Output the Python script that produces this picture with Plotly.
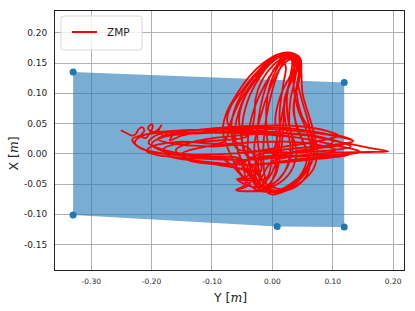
import plotly.graph_objects as go

# ---- support polygon (Y, X) ----
poly_y = [-0.330, 0.119, 0.119, 0.008, -0.330]
poly_x = [0.135, 0.118, -0.121, -0.120, -0.101]

# ---- ZMP trajectory segments (Y horizontal, X vertical) ----
start_y = [-0.251, -0.241, -0.232, -0.226, -0.222, -0.216, -0.212, -0.218, -0.210, -0.203, -0.198, -0.200, -0.206, -0.196, -0.188, -0.184, -0.188, -0.180, -0.172, -0.166, -0.170]
start_x = [0.039, 0.034, 0.030, 0.033, 0.040, 0.044, 0.038, 0.030, 0.026, 0.034, 0.045, 0.049, 0.042, 0.036, 0.041, 0.047, 0.038, 0.030, 0.036, 0.030, 0.022]

e1_y = [-0.150, -0.100, -0.040, 0.030, 0.090, 0.125, 0.134, 0.110, 0.050, -0.020, -0.100, -0.170, -0.210, -0.228, -0.215, -0.170]
e1_x = [0.030, 0.038, 0.044, 0.042, 0.033, 0.026, 0.021, 0.016, 0.010, 0.004, -0.001, -0.001, 0.006, 0.018, 0.030, 0.036]

e2_y = [-0.100, -0.020, 0.060, 0.120, 0.165, 0.192, 0.160, 0.100, 0.030, -0.040, -0.120, -0.190, -0.208, -0.200, -0.150]
e2_x = [0.040, 0.038, 0.030, 0.018, 0.009, 0.004, 0.003, 0.002, -0.004, -0.010, -0.008, -0.002, 0.004, 0.012, 0.020]

t1_y = [-0.080, -0.070, -0.055, -0.035, -0.015, 0.005, 0.025, 0.042, 0.046, 0.040, 0.035, 0.045, 0.058, 0.050, 0.025, 0.000, -0.020]
t1_x = [0.020, 0.050, 0.085, 0.115, 0.140, 0.158, 0.165, 0.158, 0.140, 0.110, 0.070, 0.035, 0.000, -0.030, -0.055, -0.062, -0.050]

t2_y = [-0.035, -0.050, -0.055, -0.045, -0.025, -0.005, 0.015, 0.035, 0.044, 0.034, 0.020, 0.022, 0.030, 0.020, 0.000, -0.030, -0.058, -0.040]
t2_x = [-0.020, 0.020, 0.060, 0.095, 0.125, 0.148, 0.162, 0.160, 0.145, 0.125, 0.090, 0.050, 0.010, -0.030, -0.050, -0.055, -0.042, -0.036]

e3_y = [-0.060, -0.120, -0.180, -0.200, -0.180, -0.120, -0.040, 0.040, 0.100, 0.140, 0.145, 0.110, 0.050, -0.010, -0.050]
e3_x = [-0.012, -0.006, 0.004, 0.016, 0.028, 0.034, 0.034, 0.027, 0.015, 0.006, 0.003, -0.002, -0.008, -0.016, -0.020]

t3_y = [-0.020, -0.025, -0.018, -0.005, 0.010, 0.024, 0.036, 0.032, 0.022, 0.018, 0.015, 0.005, -0.015, -0.040, -0.060, -0.045]
t3_x = [-0.030, 0.030, 0.085, 0.125, 0.150, 0.160, 0.152, 0.130, 0.095, 0.050, 0.010, -0.035, -0.058, -0.062, -0.060, -0.050]

t12_y = [-0.065, -0.075, -0.068, -0.050, -0.030, -0.010, 0.012, 0.030, 0.036, 0.026, 0.018, 0.010, 0.000, -0.010, -0.059, -0.035]
t12_x = [0.030, 0.055, 0.080, 0.105, 0.130, 0.150, 0.162, 0.158, 0.140, 0.110, 0.075, 0.035, -0.005, -0.040, -0.042, -0.040]

t4_y = [-0.045, -0.070, -0.082, -0.075, -0.058, -0.038, -0.015, 0.008, 0.030, 0.046, 0.048, 0.050, 0.060, 0.070, 0.074, 0.068, 0.050, 0.025, -0.005]
t4_x = [-0.040, 0.000, 0.040, 0.070, 0.100, 0.128, 0.150, 0.164, 0.167, 0.158, 0.135, 0.100, 0.065, 0.030, 0.000, -0.025, -0.045, -0.060, -0.066]

e8_y = [-0.040, -0.100, -0.160, -0.190, -0.170, -0.100, -0.020, 0.060, 0.110, 0.130, 0.100, 0.040, -0.020]
e8_x = [0.010, 0.012, 0.016, 0.024, 0.032, 0.036, 0.036, 0.030, 0.020, 0.012, 0.006, 0.002, -0.002]

t5_y = [-0.020, -0.038, -0.040, -0.030, -0.012, 0.008, 0.028, 0.038, 0.030, 0.015, 0.005, 0.008, 0.005, -0.010, -0.040, -0.067, -0.050]
t5_x = [-0.060, -0.020, 0.030, 0.075, 0.115, 0.145, 0.158, 0.150, 0.130, 0.100, 0.060, 0.015, -0.030, -0.055, -0.030, -0.019, -0.012]

e4_y = [-0.020, 0.040, 0.100, 0.126, 0.100, 0.040, -0.040, -0.120, -0.170, -0.180, -0.150, -0.090]
e4_x = [-0.005, -0.003, -0.002, -0.002, -0.006, -0.012, -0.018, -0.012, -0.004, 0.008, 0.018, 0.022]

t6_y = [-0.040, -0.030, -0.028, -0.018, 0.000, 0.020, 0.040, 0.047, 0.044, 0.036, 0.040, 0.055, 0.062, 0.050, 0.025, -0.005]
t6_x = [0.030, 0.060, 0.090, 0.120, 0.145, 0.160, 0.160, 0.145, 0.120, 0.085, 0.045, 0.010, -0.020, -0.045, -0.060, -0.058]

t13_y = [-0.010, -0.015, -0.010, 0.000, 0.012, 0.026, 0.038, 0.046, 0.042, 0.050, 0.060, 0.066, 0.056, 0.030, 0.005, -0.015]
t13_x = [-0.050, 0.000, 0.060, 0.105, 0.140, 0.160, 0.160, 0.150, 0.120, 0.085, 0.050, 0.010, -0.025, -0.050, -0.062, -0.055]

t7_y = [-0.030, -0.052, -0.062, -0.052, -0.034, -0.012, 0.010, 0.022, 0.018, 0.012, 0.012, 0.000, -0.025]
t7_x = [-0.045, -0.010, 0.035, 0.080, 0.115, 0.145, 0.160, 0.145, 0.115, 0.070, 0.020, -0.030, -0.055]

e5_y = [-0.050, -0.110, -0.170, -0.205, -0.190, -0.120, -0.040, 0.040, 0.090, 0.110, 0.080, 0.020, -0.040]
e5_x = [-0.010, -0.004, 0.004, 0.018, 0.032, 0.040, 0.046, 0.046, 0.038, 0.030, 0.022, 0.012, 0.004]

t8_y = [-0.060, -0.068, -0.060, -0.042, -0.020, 0.002, 0.022, 0.038, 0.044, 0.040, 0.048, 0.066, 0.068, 0.048, 0.015, -0.020, -0.060, -0.040]
t8_x = [0.010, 0.045, 0.080, 0.112, 0.138, 0.155, 0.163, 0.160, 0.140, 0.105, 0.065, 0.030, -0.005, -0.040, -0.062, -0.062, -0.060, -0.052]

e9_y = [-0.030, -0.090, -0.140, -0.150, -0.120, -0.050, 0.020, 0.080, 0.105, 0.070, 0.000]
e9_x = [-0.022, -0.018, -0.010, 0.000, 0.010, 0.018, 0.020, 0.014, 0.006, -0.002, -0.012]

t9_y = [-0.020, -0.030, -0.020, -0.005, 0.012, 0.030, 0.040, 0.035, 0.042, 0.058, 0.064, 0.050, 0.020, -0.010]
t9_x = [-0.040, 0.010, 0.060, 0.105, 0.140, 0.156, 0.150, 0.120, 0.075, 0.035, 0.000, -0.035, -0.058, -0.050]

e6_y = [-0.030, -0.080, -0.140, -0.160, -0.130, -0.060, 0.010, 0.070, 0.100, 0.080, 0.020, -0.030]
e6_x = [-0.030, -0.020, -0.008, 0.006, 0.020, 0.030, 0.034, 0.030, 0.020, 0.010, 0.000, -0.008]

t10_y = [-0.045, -0.050, -0.040, -0.022, -0.002, 0.018, 0.032, 0.030, 0.024, 0.028, 0.040, 0.030, 0.005, -0.025]
t10_x = [0.000, 0.045, 0.090, 0.125, 0.150, 0.162, 0.155, 0.130, 0.090, 0.045, 0.005, -0.030, -0.052, -0.060]

e7_y = [-0.080, -0.160, -0.220, -0.232, -0.200, -0.120, -0.030, 0.060, 0.115, 0.134, 0.110, 0.050, 0.000]
e7_x = [-0.010, -0.002, 0.010, 0.024, 0.034, 0.040, 0.042, 0.036, 0.027, 0.021, 0.014, 0.006, 0.000]

t11_y = [-0.010, -0.008, 0.002, 0.016, 0.030, 0.040, 0.038, 0.030, 0.028, 0.034, 0.020, -0.010, -0.030, -0.050, -0.020, 0.010]
t11_x = [0.050, 0.095, 0.130, 0.152, 0.160, 0.150, 0.125, 0.090, 0.050, 0.010, -0.030, -0.055, -0.040, -0.020, 0.000, 0.000]

segments_y = [start_y, e1_y, e2_y, t1_y, t2_y, e3_y, t3_y, t12_y, t4_y, e8_y, t5_y, e4_y, t6_y, t13_y,
              t7_y, e5_y, t8_y, e9_y, t9_y, e6_y, t10_y, e7_y, t11_y]
segments_x = [start_x, e1_x, e2_x, t1_x, t2_x, e3_x, t3_x, t12_x, t4_x, e8_x, t5_x, e4_x, t6_x, t13_x,
              t7_x, e5_x, t8_x, e9_x, t9_x, e6_x, t10_x, e7_x, t11_x]

zmp_y = [v for s in segments_y for v in s]
zmp_x = [v for s in segments_x for v in s]

x_ticks = [-0.30, -0.20, -0.10, 0.00, 0.10, 0.20]
y_ticks = [-0.15, -0.10, -0.05, 0.00, 0.05, 0.10, 0.15, 0.20]

C0 = "#1f77b4"

fig = go.Figure()
fig.add_trace(go.Scatter(x=poly_y, y=poly_x, fill="toself", mode="lines",
                         line=dict(width=0), fillcolor="rgba(31,119,180,0.6)",
                         showlegend=False, hoverinfo="skip"))
fig.add_trace(go.Scatter(x=zmp_y, y=zmp_x, mode="lines", name="ZMP",
                         line=dict(color="red", width=1.8, shape="spline", smoothing=1.0),
                         showlegend=False))
fig.add_trace(go.Scatter(x=poly_y, y=poly_x, mode="markers",
                         marker=dict(color=C0, size=7), showlegend=False))

L, R, T, B = 55, 11, 11, 41
W, H = 415, 311
pw, ph = W - L - R, H - T - B

def px(xp):
    return (xp - L) / pw

def py(yp):
    return (H - B - yp) / ph

# manual legend (matplotlib-like)
x0, x1, y0, y1 = px(61), px(142), py(50), py(16)
rx, ry = 3 / pw, 3 / ph
path = (f"M {x0+rx},{y0} L {x1-rx},{y0} Q {x1},{y0} {x1},{y0+ry} L {x1},{y1-ry} "
        f"Q {x1},{y1} {x1-rx},{y1} L {x0+rx},{y1} Q {x0},{y1} {x0},{y1-ry} "
        f"L {x0},{y0+ry} Q {x0},{y0} {x0+rx},{y0} Z")
fig.add_shape(type="path", path=path, xref="paper", yref="paper",
              fillcolor="rgba(255,255,255,0.8)", line=dict(color="#d9d9d9", width=1))
fig.add_shape(type="line", xref="paper", yref="paper", x0=px(72), x1=px(97),
              y0=py(32), y1=py(32), line=dict(color="red", width=2))
fig.add_annotation(x=px(105), y=py(32), xref="paper", yref="paper", text="ZMP",
                   showarrow=False, xanchor="left", yanchor="middle",
                   font=dict(family="DejaVu Sans", size=10.5, color="#262626"))

m_span = "<span style='font-family:DejaVu Serif'><i>m</i></span>"
fig.add_annotation(x=0.5, y=py(297), xref="paper", yref="paper",
                   text=f"Y [{m_span}]", showarrow=False, xanchor="center", yanchor="middle",
                   font=dict(family="DejaVu Sans", size=12.5, color="#262626"))
fig.add_annotation(x=px(13), y=0.45, xref="paper", yref="paper", textangle=-90,
                   text=f"X [{m_span}]", showarrow=False, xanchor="center", yanchor="middle",
                   font=dict(family="DejaVu Sans", size=12.5, color="#262626"))

axis_common = dict(showgrid=True, gridcolor="#b0b0b0", gridwidth=1, zeroline=False,
                   showline=True, linecolor="#222222", linewidth=1, mirror=True,
                   ticks="")

fig.update_xaxes(range=[-0.36, 0.218], tickvals=x_ticks,
                 ticktext=[f"{v:.2f}" for v in x_ticks], ticklabelstandoff=4,
                 tickfont=dict(family="DejaVu Sans", size=7.5, color="#262626"),
                 **axis_common)
fig.update_yaxes(range=[-0.192, 0.236], tickvals=y_ticks,
                 ticktext=[f"{v:.2f}" for v in y_ticks], ticklabelstandoff=5,
                 tickfont=dict(family="DejaVu Sans", size=9, color="#262626"),
                 **axis_common)

fig.update_layout(width=W, height=H, autosize=False,
                  margin=dict(l=L, r=R, t=T, b=B, pad=0),
                  plot_bgcolor="white", paper_bgcolor="white")

fig.write_html("out.html", config={"displayModeBar": False},
               post_script="document.body.style.margin='0';")
